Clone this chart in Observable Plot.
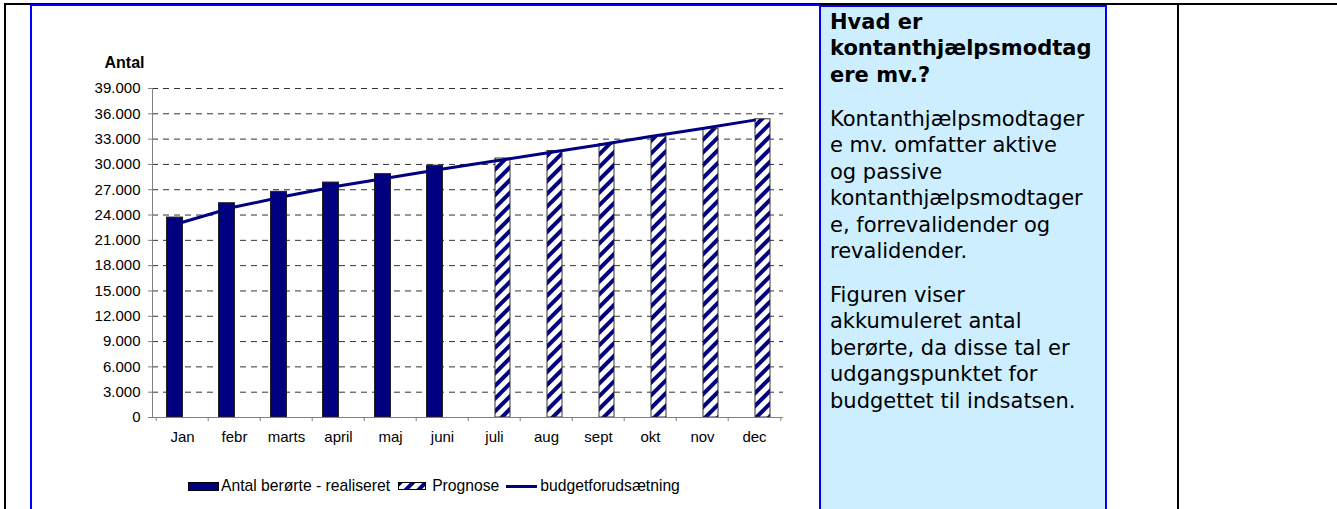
<!DOCTYPE html>
<html>
<head>
<meta charset="utf-8">
<script src="https://cdn.jsdelivr.net/npm/d3@7"></script>
<script src="https://cdn.jsdelivr.net/npm/@observablehq/plot@0.6"></script>
<style>
  html, body { margin: 0; padding: 0; background: #fff; }
  body { width: 1337px; height: 509px; position: relative; overflow: hidden; font-family: "Liberation Sans", Arial, sans-serif; }
  .ln { position: absolute; }
  #chart { position: absolute; left: 32px; top: 6px; }
  #legend { position: absolute; left: 188px; top: 477px; height: 18px; display: flex; align-items: center; font-size: 15.7px; color: #000; white-space: nowrap; }
  #legend .sw1 { width: 29px; height: 7px; background: #000080; border: 1px solid #000; margin-right: 2px; }
  #legend .sw2 { width: 28px; height: 8px; margin-left: 8px; margin-right: 6px; display: block; }
  #legend .sw3 { width: 31px; height: 3px; background: #000080; margin-left: 7px; margin-right: 3px; }
  #panel { position: absolute; left: 819px; top: 5px; width: 275px; height: 510px; background: #cceeff; border: 2px solid #0000ff; font-family: "DejaVu Sans", Verdana, sans-serif; font-size: 21px; line-height: 26.5px; color: #000; padding: 0 0 0 9px; white-space: nowrap; }
  #panel .t { font-weight: bold; margin-top: 1.5px; }
  #panel .p1 { margin-top: 17.5px; }
  #panel .p2 { margin-top: 17px; }
</style>
</head>
<body>
<div class="ln" style="left:4px;top:3px;width:1333px;height:2px;background:#000"></div>
<div class="ln" style="left:4px;top:3px;width:2px;height:506px;background:#000"></div>
<div class="ln" style="left:30px;top:4px;width:790px;height:2px;background:#0000ff"></div>
<div class="ln" style="left:30px;top:4px;width:2px;height:505px;background:#0000ff"></div>
<div class="ln" style="left:1177px;top:3px;width:2px;height:506px;background:#000"></div>
<div id="chart"></div>
<div id="legend">
  <div class="sw1"></div><span>Antal berørte - realiseret</span>
  <svg class="sw2" width="28" height="8"><defs><pattern id="progL" patternUnits="userSpaceOnUse" width="9" height="9" patternTransform="rotate(45)"><rect width="9" height="9" fill="#fff"/><rect width="4" height="9" fill="#000080"/></pattern></defs><rect x="0.5" y="0.5" width="27" height="7" fill="url(#progL)" stroke="#000"/></svg><span>Prognose</span>
  <div class="sw3"></div><span>budgetforudsætning</span>
</div>
<div id="panel">
  <div class="t">Hvad er<br>kontanthjælpsmodtag<br>ere mv.?</div>
  <div class="p1">Kontanthjælpsmodtager<br>e mv. omfatter aktive<br>og passive<br>kontanthjælpsmodtager<br>e, forrevalidender og<br>revalidender.</div>
  <div class="p2">Figuren viser<br>akkumuleret antal<br>berørte, da disse tal er<br>udgangspunktet for<br>budgettet til indsatsen.</div>
</div>
<script>
// ---- data ----
const months = ["Jan", "febr", "marts", "april", "maj", "juni", "juli", "aug", "sept", "okt", "nov", "dec"];
const realizedMonths = ["Jan", "febr", "marts", "april", "maj", "juni"];
const realizedValues = [23700, 25400, 26750, 27850, 28850, 29850];
const prognoseMonths = ["juli", "aug", "sept", "okt", "nov", "dec"];
const prognoseValues = [30700, 31600, 32400, 33300, 34250, 35350];
const budgetValues = [23150, 24950, 26250, 27450, 28450, 29450, 30400, 31350, 32300, 33300, 34250, 35250];
const yTicks = [0, 3000, 6000, 9000, 12000, 15000, 18000, 21000, 24000, 27000, 30000, 33000, 36000, 39000];
const yLabel = "Antal";

const realized = realizedMonths.map((m, i) => ({month: m, value: realizedValues[i]}));
const prognose = prognoseMonths.map((m, i) => ({month: m, value: prognoseValues[i]}));
const budget = months.map((m, i) => ({month: m, value: budgetValues[i]}));

const fmt = d => d3.format(",")(d).replace(/,/g, ".");
const W = 771, ML = 120, MR = 20;
const bw = (W - ML - MR) / months.length;

const chart = Plot.plot({
  width: W,
  height: 451,
  marginLeft: ML,
  marginRight: MR,
  marginTop: 82,
  marginBottom: 40,
  style: {fontFamily: "'Liberation Sans', Arial, sans-serif", fontSize: "15px", color: "#000", background: "transparent"},
  x: {domain: months, padding: 0, label: null},
  y: {domain: [0, 39000], label: null},
  marks: [
    Plot.gridY(yTicks.filter(d => d > 0), {stroke: "#000", strokeOpacity: 0.8, strokeDasharray: "6,5"}),
    Plot.barY(realized, {x: "month", y: "value", fill: "#000080", stroke: "#222", strokeWidth: 1, insetLeft: 10.5, insetRight: 25.5}),
    Plot.barY(prognose, {x: "month", y: "value", fill: "url(#prog)", stroke: "#333", strokeWidth: 1, insetLeft: 27, insetRight: 10}),
    Plot.lineY(budget, {x: "month", y: "value", stroke: "#000080", strokeWidth: 3}),
    Plot.ruleY([0], {stroke: "#808080"}),
    Plot.frame({anchor: "left", stroke: "#808080"}),
    Plot.axisY({ticks: yTicks, tickFormat: fmt, tickSize: 4, tickPadding: 8, stroke: "#808080", label: null}),
    Plot.axisX(months, {tickSize: 4, text: null, dx: -bw / 2, stroke: "#808080", label: null}),
    Plot.axisX([months[months.length - 1]], {tickSize: 4, text: null, dx: bw / 2, stroke: "#808080", label: null}),
    Plot.axisX(months, {tickSize: 0, tickPadding: 14, label: null}),
    Plot.text([yLabel], {text: d => d, frameAnchor: "top-left", dx: -8, dy: -32, textAnchor: "end", fontWeight: "bold", fontSize: 16})
  ]
});

const defs = d3.select(chart).insert("defs", ":first-child");
const pat = defs.append("pattern").attr("id", "prog").attr("patternUnits", "userSpaceOnUse")
  .attr("width", 9).attr("height", 9).attr("patternTransform", "rotate(45)");
pat.append("rect").attr("width", 9).attr("height", 9).attr("fill", "#fff");
pat.append("rect").attr("width", 4).attr("height", 9).attr("fill", "#000080");

document.getElementById("chart").appendChild(chart);
</script>
</body>
</html>
